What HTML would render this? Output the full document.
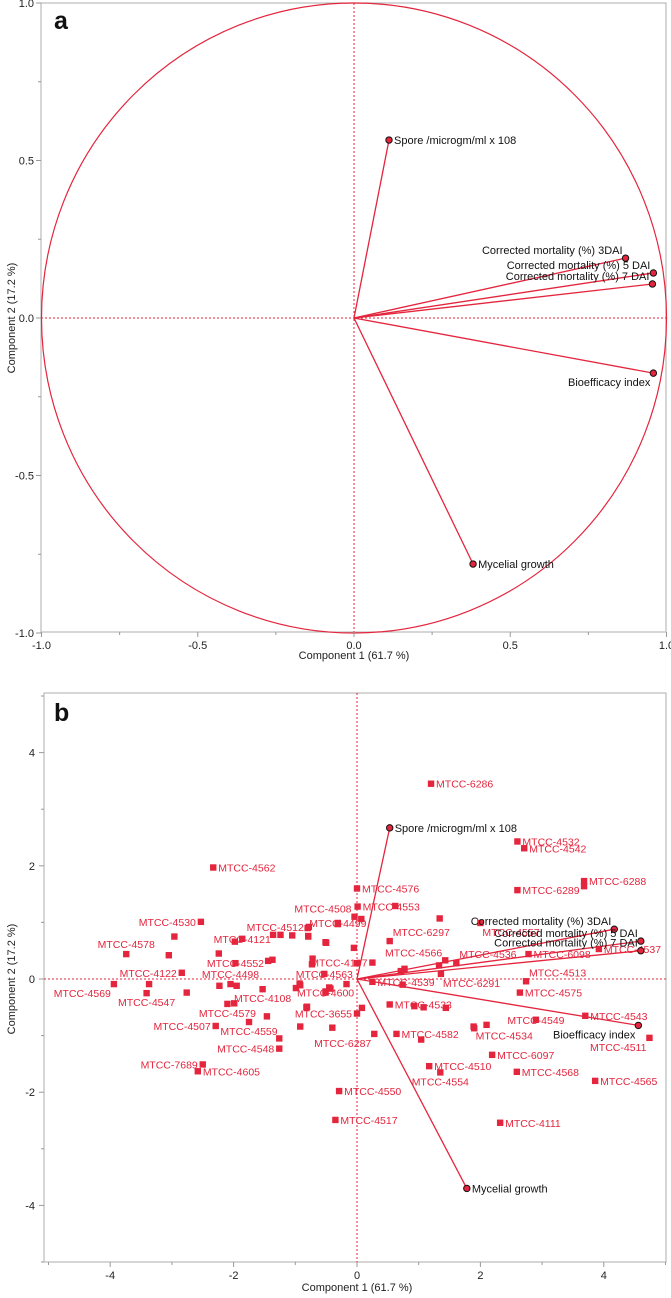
<!DOCTYPE html>
<html><head><meta charset="utf-8"><style>
html,body{margin:0;padding:0;background:#fff;}
svg{display:block;font-family:"Liberation Sans",sans-serif;}
</style></head><body>
<svg id="chart" width="671" height="1298" viewBox="0 0 671 1298" xmlns="http://www.w3.org/2000/svg"></svg>
<script>
// ---------- Panel a data (loadings) ----------
const varNames = ["Spore /microgm/ml x 108","Corrected mortality (%) 3DAI","Corrected mortality (%) 5 DAI","Corrected mortality (%) 7 DAI","Bioefficacy index","Mycelial growth"];
const loadX = [0.112,0.869,0.958,0.955,0.958,0.381];
const loadY = [0.565,0.19,0.143,0.108,-0.175,-0.781];
const varLabelSide = ["r","lt","lt","lt","lb","r"];
const aTicks = [-1.0,-0.5,0.0,0.5,1.0];
const aTickLabels = ["-1.0","-0.5","0.0","0.5","1.0"];
// ---------- Panel b data (biplot) ----------
const bVarX = [0.53,4.17,4.60,4.60,4.56,1.78];
const bVarY = [2.67,0.88,0.67,0.50,-0.82,-3.70];
const bVarSide = ["r","lt","lt","lt","lb","r"];
const ptNames = ["MTCC-4562","MTCC-4530","","MTCC-4578","","","MTCC-4121","","","","","MTCC-4512","MTCC-4499","","","MTCC-4552","","","","","","MTCC-4122","MTCC-4569","","MTCC-4547","","","MTCC-4498","","MTCC-4108","","","MTCC-4563","","","","","MTCC-4532","MTCC-4542","MTCC-4576","MTCC-6289","MTCC-6288","","MTCC-4553","","MTCC-4508","","","MTCC-4557","MTCC-6297","MTCC-4537","MTCC-6098","MTCC-4566","","MTCC-4536","MTCC-6291","","MTCC-4107","","MTCC-4539","","MTCC-4513","","","","MTCC-3655","","","","MTCC-4600","MTCC-4543","MTCC-4511","MTCC-4575","MTCC-4533","","","","MTCC-4549","","MTCC-4534","MTCC-4582","","MTCC-4510","MTCC-4554","MTCC-6097","MTCC-4568","MTCC-4565","MTCC-4111","MTCC-4550","MTCC-4517","MTCC-6287","","","MTCC-4548","","","MTCC-4559","MTCC-4507","MTCC-4579","","MTCC-7689","MTCC-4605","","MTCC-6286","","",""];
const ptX = [-2.33,-2.53,-2.96,-3.74,-3.05,-1.98,-1.86,-1.36,-1.24,-1.05,-0.79,-0.78,-0.31,-0.51,-0.05,-1.97,-2.24,-1.44,-1.37,-0.72,-0.73,-2.84,-3.94,-3.37,-3.41,-2.76,-2.23,-2.05,-1.95,-1.53,-0.99,-0.93,-0.53,-0.45,-0.51,-0.17,0.0,2.60,2.71,0.0,2.60,3.68,3.68,0.01,0.62,-0.04,0.07,1.34,2.00,0.53,3.92,2.78,1.43,1.33,1.61,1.36,0.71,0.25,0.77,0.25,0.74,2.74,-0.43,-0.31,-0.80,0.0,0.08,-0.40,-0.82,-0.51,3.70,4.74,2.64,0.53,0.93,1.08,1.44,2.90,1.90,1.89,0.64,1.04,1.17,1.35,2.19,2.59,3.86,2.32,-0.29,-0.35,0.28,-0.92,-0.81,-1.26,-1.26,-1.46,-1.75,-2.29,-2.10,-1.99,-2.50,-2.58,-0.79,1.20,-0.50,2.10,-0.92];
const ptY = [1.97,1.01,0.75,0.44,0.42,0.66,0.71,0.78,0.78,0.77,0.76,0.92,0.99,0.65,0.55,0.28,0.45,0.32,0.34,0.36,0.26,0.11,-0.09,-0.09,-0.25,-0.24,-0.12,-0.09,-0.12,-0.18,-0.16,-0.08,0.09,-0.15,-0.22,-0.09,0.28,2.43,2.31,1.60,1.57,1.73,1.64,1.28,1.29,1.10,1.06,1.07,0.99,0.67,0.53,0.44,0.33,0.24,0.28,0.09,0.14,0.29,0.18,-0.05,-0.10,-0.04,-0.17,0.97,0.90,-0.61,-0.51,-0.86,-0.50,-0.24,-0.65,-1.04,-0.24,-0.45,-0.48,-0.50,-0.51,-0.72,-0.87,-0.84,-0.97,-1.07,-1.54,-1.65,-1.34,-1.64,-1.80,-2.54,-1.98,-2.49,-0.97,-0.84,-0.49,-1.23,-1.05,-0.66,-0.76,-0.83,-0.44,-0.43,-1.51,-1.63,0.75,3.45,0.64,-0.81,-0.11];
const ptSide = ["r","l","","t","","","c","","","","","l","c","","","c","","","","","","l","lb","","b","","","t","","b","","","c","","","","","r","r","r","r","r","","r","","lt","","","rb","rt","r","r","lt","","rt","rb","","l","","r","","rt","","","","l","","","","c","r","lb","r","r","","","","c","","rb","r","","r","b","r","r","r","r","r","r","lb","","","l","","","b","l","b","","l","r","","r","","",""];
const bXTicks = [-4,-2,0,2,4];
const bYTicks = [4,2,0,-2,-4];

const svg = document.getElementById('chart');
const NS = "http://www.w3.org/2000/svg";
const RED = "#e4253d";
function mk(tag, attrs, parent){
  const e = document.createElementNS(NS, tag);
  for (const k in attrs) e.setAttribute(k, attrs[k]);
  (parent||svg).appendChild(e);
  return e;
}
function txt(x,y,s,anchor,fill,size,parent){
  const t = mk('text',{x:x,y:y,'text-anchor':anchor||'start',fill:fill||'#222','font-size':size||11},parent);
  t.textContent = s; return t;
}
function place(g,px,py,side,s,fill,size){
  let x=px,y=py+4,a='start';
  if(side==='r'){x=px+5;}
  else if(side==='l'){x=px-5;a='end';}
  else if(side==='t'){y=py-6;a='middle';}
  else if(side==='b'){y=py+13;a='middle';}
  else if(side==='c'){a='middle';y=py+4;}
  else if(side==='lb'){x=px-3;y=py+13;a='end';}
  else if(side==='lt'){x=px-3;y=py-4;a='end';}
  else if(side==='rb'){x=px+2;y=py+13;}
  else if(side==='rt'){x=px+3;y=py-5;}
  return txt(x,y,s,a,fill,size,g);
}

// ================= PANEL A =================
const A = {l:41,r:666,t:3,b:632};
const ax = v => 354 + v*312.5;
const ay = v => 318 - v*315;
const ga = mk('g',{});


let fr = mk('rect',{x:A.l,y:A.t,width:A.r-A.l,height:A.b-A.t,fill:'none',stroke:'#bbb','stroke-width':1.2},ga);
 
let c = mk('ellipse',{cx:ax(0),cy:ay(0),rx:ax(1)-ax(0),ry:ay(0)-ay(1),fill:'none',stroke:RED,'stroke-width':1.2},ga);
 
let zl = mk('line',{x1:ax(0),x2:ax(0),y1:A.t,y2:A.b,stroke:RED,'stroke-dasharray':'2,2','stroke-width':1},ga);
 
zl = mk('line',{x1:A.l,x2:A.r,y1:ay(0),y2:ay(0),stroke:RED,'stroke-dasharray':'2,2','stroke-width':1},ga);
 
for(let v=-1; v<=1.001; v+=0.25){
  const maj = Math.abs(v*2-Math.round(v*2))<1e-6;
  mk('line',{x1:ax(v),x2:ax(v),y1:A.b,y2:A.b+(maj?5:3),stroke:'#999'},ga);
  mk('line',{x1:A.l,x2:A.l-(maj?5:3),y1:ay(v),y2:ay(v),stroke:'#999'},ga);
}
aTicks.forEach((v,i)=>{
  let t = txt(ax(v),A.b+17,aTickLabels[i],'middle','#222',11,ga);
   
  t = txt(A.l-7,ay(v)+4,aTickLabels[i],'end','#222',11,ga);
   
});
let at = txt(354,659,'Component 1  (61.7 %)','middle','#222',11,ga);
 
at = txt(0,0,'Component 2  (17.2 %)','middle','#222',11,ga);
at.setAttribute('transform','translate(15,318) rotate(-90)');
 
at = mk('text',{x:54,y:29,'font-size':25,'font-weight':'bold',fill:'#111'},ga); at.textContent='a';
 
varNames.forEach((n,i)=>{
  const l = mk('line',{x1:ax(0),y1:ay(0),x2:ax(loadX[i]),y2:ay(loadY[i]),stroke:RED,'stroke-width':1.3},ga);
   
  const d = mk('circle',{cx:ax(loadX[i]),cy:ay(loadY[i]),r:3.2,fill:RED,stroke:'#111','stroke-width':1},ga);
   
  const t = place(ga,ax(loadX[i]),ay(loadY[i]),varLabelSide[i],n,'#111',11);
   
});

// ================= PANEL B =================
const B = {l:44,r:666,t:693,b:1262};
const bx = v => 357 + v*61.7;
const by = v => 979 - v*56.6;
const gb = mk('g',{});


fr = mk('rect',{x:B.l,y:B.t,width:B.r-B.l,height:B.b-B.t,fill:'none',stroke:'#bbb','stroke-width':1.2},gb);
 
zl = mk('line',{x1:bx(0),x2:bx(0),y1:B.t,y2:B.b,stroke:RED,'stroke-dasharray':'2,2','stroke-width':1},gb);
 
zl = mk('line',{x1:B.l,x2:B.r,y1:by(0),y2:by(0),stroke:RED,'stroke-dasharray':'2,2','stroke-width':1},gb);
 
for(let v=-5; v<=5; v++){
  const maj = v%2===0;
  if(bx(v)>=B.l-1 && bx(v)<=B.r+1) mk('line',{x1:bx(v),x2:bx(v),y1:B.b,y2:B.b+(maj?5:3),stroke:'#999'},gb);
  if(by(v)>=B.t-1 && by(v)<=B.b+1) mk('line',{x1:B.l,x2:B.l-(maj?5:3),y1:by(v),y2:by(v),stroke:'#999'},gb);
}
bXTicks.forEach(v=>{
  const t = txt(bx(v),B.b+17,String(v),'middle','#222',11,gb);
   
});
bYTicks.forEach(v=>{
  const t = txt(B.l-9,by(v)+4,String(v),'end','#222',11,gb);
   
});
at = txt(357,1291,'Component 1  (61.7 %)','middle','#222',11,gb);
 
at = txt(0,0,'Component 2  (17.2 %)','middle','#222',11,gb);
at.setAttribute('transform','translate(15,979) rotate(-90)');
 
at = mk('text',{x:54,y:721,'font-size':25,'font-weight':'bold',fill:'#111'},gb); at.textContent='b';
 

ptX.forEach((v,i)=>{
  const s = mk('rect',{x:bx(v)-3.2,y:by(ptY[i])-3.2,width:6.4,height:6.4,fill:RED},gb);
   
  if(ptNames[i]){
    const t = place(gb,bx(v),by(ptY[i]),ptSide[i],ptNames[i],RED,10.5);
     
  }
});
varNames.forEach((n,i)=>{
  const l = mk('line',{x1:bx(0),y1:by(0),x2:bx(bVarX[i]),y2:by(bVarY[i]),stroke:RED,'stroke-width':1.3},gb);
   
  const d = mk('circle',{cx:bx(bVarX[i]),cy:by(bVarY[i]),r:3.2,fill:RED,stroke:'#111','stroke-width':1},gb);
   
  const t = place(gb,bx(bVarX[i]),by(bVarY[i]),bVarSide[i],n,'#111',11);
   
});
</script>
</body></html>
